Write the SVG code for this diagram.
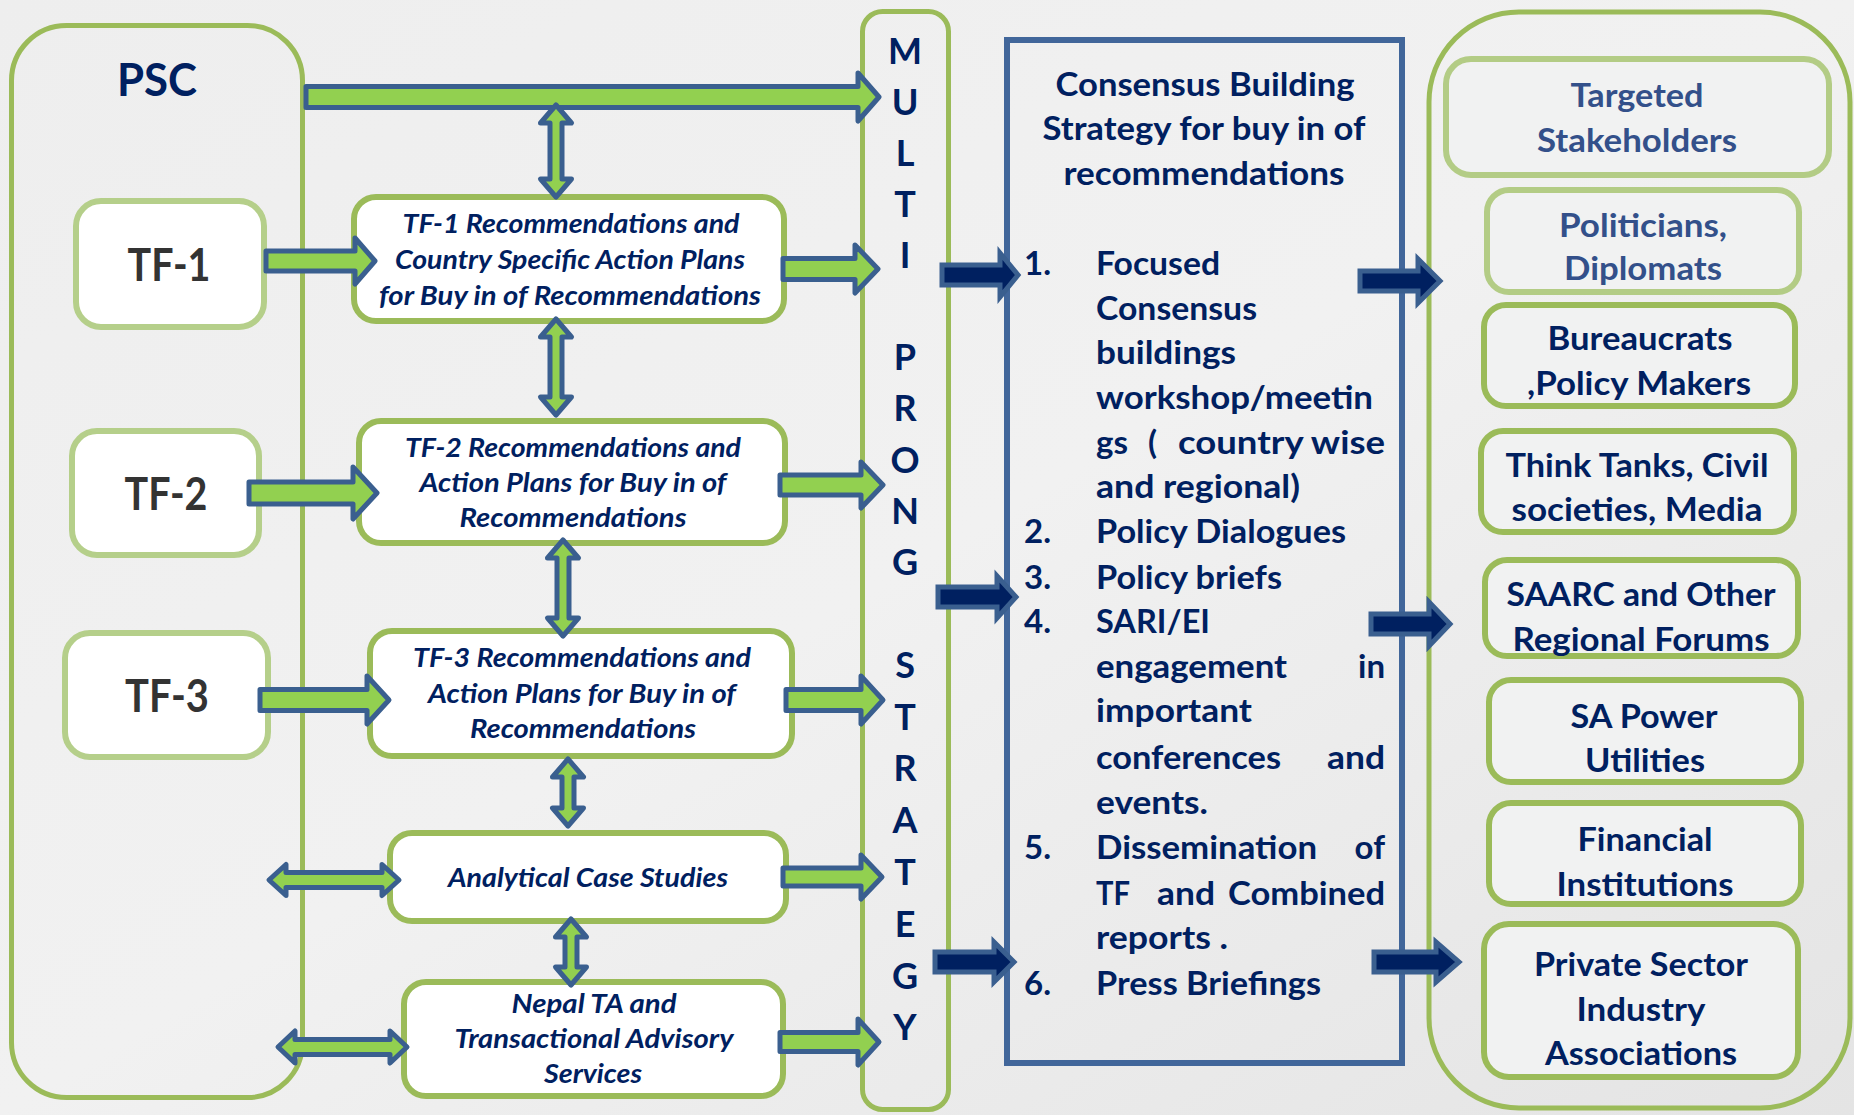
<svg xmlns="http://www.w3.org/2000/svg" width="1854" height="1115" viewBox="0 0 1854 1115">
<defs>
<linearGradient id="bg" x1="0" y1="0" x2="1" y2="1">
<stop offset="0" stop-color="#EEEEEE"/>
<stop offset="0.5" stop-color="#F1F1F1"/>
<stop offset="1" stop-color="#E4E4E4"/>
</linearGradient>
<style>
.cont{fill:none;stroke:#9BBB59;stroke-width:5}
.box{fill:#FFFFFF;stroke:#9BBB59;stroke-width:6}
.boxl{fill:#FFFFFF;stroke:#B5CF8A;stroke-width:6}
.sbox{fill:#F1F2F2;stroke:#9BBB59;stroke-width:6}
.sboxl{fill:#F1F2F2;stroke:#B3CC85;stroke-width:6}
.ga{fill:#92D050;stroke:#3A5F8F;stroke-width:5;stroke-linejoin:round}
.na{fill:#002060;stroke:#3A5F8F;stroke-width:5;stroke-linejoin:miter}
.t{font-family:Lato,'Noto Sans',sans-serif;font-weight:700;fill:#002060}
.c{text-anchor:middle}
.it{font-style:italic;font-size:26px}
.big{font-size:46px}
.gray{fill:#333333}
.lt{fill:#33508A}
.m{font-size:36px;text-anchor:middle}
.l{font-size:33px}
</style>
</defs>
<rect x="0" y="0" width="1854" height="1115" fill="url(#bg)"/>

<g id="psc-container"><rect class="cont" x="11.5" y="25.5" width="291" height="1072" rx="55"/></g>
<g id="multi-prong"><rect class="cont" x="862.5" y="11.5" width="86" height="1098" rx="20" fill="#EFF0EF"/></g>
<g id="consensus"><rect x="1007" y="40" width="395" height="1023" fill="none" stroke="#41669A" stroke-width="6"/></g>
<g id="stakeholders-container"><rect class="cont" x="1429" y="12" width="421" height="1096" rx="90"/></g>

<g id="tf1"><rect class="boxl" x="76" y="201" width="188" height="126" rx="25"/></g>
<g id="tf2"><rect class="boxl" x="72" y="431" width="187" height="124" rx="25"/></g>
<g id="tf3"><rect class="boxl" x="65" y="633" width="203" height="124" rx="25"/></g>

<g id="tf1-rec"><rect class="box" x="354" y="197" width="430" height="124" rx="22"/></g>
<g id="tf2-rec"><rect class="box" x="359" y="421" width="426" height="122" rx="22"/></g>
<g id="tf3-rec"><rect class="box" x="370" y="631" width="422" height="125" rx="22"/></g>
<g id="analytical"><rect class="box" x="390" y="833" width="396" height="88" rx="22"/></g>
<g id="nepal"><rect class="box" x="404" y="982" width="379" height="114" rx="22"/></g>

<g id="targeted"><rect class="sboxl" x="1446" y="59" width="383" height="116" rx="25"/></g>
<g id="politicians"><rect class="sboxl" x="1487" y="190" width="312" height="102" rx="22"/></g>
<g id="bureaucrats"><rect class="sbox" x="1484" y="305" width="311" height="101" rx="22"/></g>
<g id="thinktanks"><rect class="sbox" x="1481" y="431" width="313" height="101" rx="22"/></g>
<g id="saarc"><rect class="sbox" x="1485" y="560" width="313" height="96" rx="22"/></g>
<g id="sapower"><rect class="sbox" x="1489" y="680" width="312" height="102" rx="22"/></g>
<g id="financial"><rect class="sbox" x="1489" y="803" width="312" height="101" rx="22"/></g>
<g id="private"><rect class="sbox" x="1484" y="924" width="314" height="153" rx="25"/></g>

<g id="connectors">
<path class="ga" d="M306,86.5 L858,86.5 L858,73 L879,97 L858,121 L858,107.5 L306,107.5 Z"/>
<path class="ga" d="M266,251 L355,251 L355,238 L375,261 L355,284 L355,271 L266,271 Z"/>
<path class="ga" d="M249,482 L353,482 L353,467 L377,493 L353,519 L353,504 L249,504 Z"/>
<path class="ga" d="M260,689.5 L367,689.5 L367,676 L389,700 L367,724 L367,710.5 L260,710.5 Z"/>
<path class="ga" d="M783,258.5 L855,258.5 L855,245 L878,269 L855,293 L855,279.5 L783,279.5 Z"/>
<path class="ga" d="M780,475 L861,475 L861,462 L883,485 L861,508 L861,495 L780,495 Z"/>
<path class="ga" d="M786,689.5 L861,689.5 L861,676 L883,700 L861,724 L861,710.5 L786,710.5 Z"/>
<path class="ga" d="M783,868 L861,868 L861,855 L882,877 L861,899 L861,886 L783,886 Z"/>
<path class="ga" d="M780,1032.5 L858,1032.5 L858,1019 L879,1042 L858,1065 L858,1051.5 L780,1051.5 Z"/>
<path class="ga" d="M269,880 L286,864.5 L286,872.5 L382,872.5 L382,864.5 L399,880 L382,895.5 L382,887.5 L286,887.5 L286,895.5 Z"/>
<path class="ga" d="M278,1047 L295,1031 L295,1039.5 L390,1039.5 L390,1031 L407,1047 L390,1063 L390,1054.5 L295,1054.5 L295,1063 Z"/>
<path class="ga" d="M556,105 L571.5,123 L562,123 L562,179 L571.5,179 L556,197 L540.5,179 L550,179 L550,123 L540.5,123 Z"/>
<path class="ga" d="M556,319 L571.5,337 L562,337 L562,397 L571.5,397 L556,415 L540.5,397 L550,397 L550,337 L540.5,337 Z"/>
<path class="ga" d="M563,540 L578.5,558 L569,558 L569,618 L578.5,618 L563,636 L547.5,618 L557,618 L557,558 L547.5,558 Z"/>
<path class="ga" d="M568,759 L583.5,777 L574,777 L574,808 L583.5,808 L568,826 L552.5,808 L562,808 L562,777 L552.5,777 Z"/>
<path class="ga" d="M571,919 L586.5,937 L577,937 L577,967 L586.5,967 L571,985 L555.5,967 L565,967 L565,937 L555.5,937 Z"/>
<path class="na" d="M942,265 L1000,265 L1000,253 L1018,275 L1000,297 L1000,285 L942,285 Z"/>
<path class="na" d="M938,587 L997,587 L997,576 L1016,597 L997,618 L997,607 L938,607 Z"/>
<path class="na" d="M935,952 L994,952 L994,942 L1014,962 L994,982 L994,972 L935,972 Z"/>
<path class="na" d="M1360,271 L1418,271 L1418,259 L1440,281 L1418,303 L1418,291 L1360,291 Z"/>
<path class="na" d="M1371,614 L1429,614 L1429,602 L1450,624 L1429,646 L1429,634 L1371,634 Z"/>
<path class="na" d="M1374,952 L1436,952 L1436,942 L1459,962 L1436,982 L1436,972 L1374,972 Z"/>
</g>

<g id="labels">
<text class="t big c" x="157" y="96" textLength="80" lengthAdjust="spacingAndGlyphs">PSC</text>
<text class="t big c gray" x="169" y="281" textLength="83" lengthAdjust="spacingAndGlyphs">TF-1</text>
<text class="t big c gray" x="166" y="510" textLength="83" lengthAdjust="spacingAndGlyphs">TF-2</text>
<text class="t big c gray" x="167" y="712" textLength="84" lengthAdjust="spacingAndGlyphs">TF-3</text>

<text class="t it c" x="571" y="233" textLength="337" lengthAdjust="spacingAndGlyphs">TF-1 Recommendations and</text>
<text class="t it c" x="570" y="269" textLength="350" lengthAdjust="spacingAndGlyphs">Country Specific Action Plans</text>
<text class="t it c" x="570" y="305" textLength="382" lengthAdjust="spacingAndGlyphs">for Buy in of Recommendations</text>

<text class="t it c" x="573" y="457" textLength="336" lengthAdjust="spacingAndGlyphs">TF-2 Recommendations and</text>
<text class="t it c" x="573" y="492" textLength="307" lengthAdjust="spacingAndGlyphs">Action Plans for Buy in of</text>
<text class="t it c" x="573" y="527" textLength="227" lengthAdjust="spacingAndGlyphs">Recommendations</text>

<text class="t it c" x="582" y="667" textLength="338" lengthAdjust="spacingAndGlyphs">TF-3 Recommendations and</text>
<text class="t it c" x="582" y="703" textLength="308" lengthAdjust="spacingAndGlyphs">Action Plans for Buy in of</text>
<text class="t it c" x="583" y="738" textLength="226" lengthAdjust="spacingAndGlyphs">Recommendations</text>

<text class="t it c" x="588" y="887" textLength="280" lengthAdjust="spacingAndGlyphs">Analytical Case Studies</text>

<text class="t it c" x="594" y="1013" textLength="165" lengthAdjust="spacingAndGlyphs">Nepal TA and</text>
<text class="t it c" x="594" y="1048" textLength="279" lengthAdjust="spacingAndGlyphs">Transactional Advisory</text>
<text class="t it c" x="593" y="1083" textLength="98" lengthAdjust="spacingAndGlyphs">Services</text>

<text class="t m" x="905" y="64">M</text>
<text class="t m" x="905" y="115">U</text>
<text class="t m" x="905" y="166">L</text>
<text class="t m" x="905" y="217">T</text>
<text class="t m" x="905" y="268">I</text>
<text class="t m" x="905" y="370">P</text>
<text class="t m" x="905" y="421">R</text>
<text class="t m" x="905" y="473">O</text>
<text class="t m" x="905" y="524">N</text>
<text class="t m" x="905" y="575">G</text>
<text class="t m" x="905" y="678">S</text>
<text class="t m" x="905" y="730">T</text>
<text class="t m" x="905" y="781">R</text>
<text class="t m" x="905" y="833">A</text>
<text class="t m" x="905" y="885">T</text>
<text class="t m" x="905" y="937">E</text>
<text class="t m" x="905" y="989">G</text>
<text class="t m" x="905" y="1040">Y</text>

<text class="t l c" x="1205" y="96" textLength="299" lengthAdjust="spacingAndGlyphs">Consensus Building</text>
<text class="t l c" x="1204" y="140" textLength="323" lengthAdjust="spacingAndGlyphs">Strategy for buy in of</text>
<text class="t l c" x="1204" y="185" textLength="281" lengthAdjust="spacingAndGlyphs">recommendations</text>

<text class="t l" x="1024" y="275">1.</text>
<text class="t l" x="1096" y="275" textLength="124" lengthAdjust="spacingAndGlyphs">Focused</text>
<text class="t l" x="1096" y="320" textLength="161" lengthAdjust="spacingAndGlyphs">Consensus</text>
<text class="t l" x="1096" y="364" textLength="140" lengthAdjust="spacingAndGlyphs">buildings</text>
<text class="t l" x="1096" y="409" textLength="277" lengthAdjust="spacingAndGlyphs">workshop/meetin</text>
<text class="t l" x="1096" y="454">gs</text>
<text class="t l" x="1148" y="454">(</text>
<text class="t l" x="1178" y="454" textLength="207" lengthAdjust="spacingAndGlyphs">country  wise</text>
<text class="t l" x="1096" y="498" textLength="204" lengthAdjust="spacingAndGlyphs">and regional)</text>
<text class="t l" x="1024" y="543">2.</text>
<text class="t l" x="1096" y="543" textLength="250" lengthAdjust="spacingAndGlyphs">Policy Dialogues</text>
<text class="t l" x="1024" y="589">3.</text>
<text class="t l" x="1096" y="589" textLength="186" lengthAdjust="spacingAndGlyphs">Policy briefs</text>
<text class="t l" x="1024" y="633">4.</text>
<text class="t l" x="1096" y="633" textLength="114" lengthAdjust="spacingAndGlyphs">SARI/EI</text>
<text class="t l" x="1096" y="678" textLength="191" lengthAdjust="spacingAndGlyphs">engagement</text>
<text class="t l" x="1385" y="678" text-anchor="end">in</text>
<text class="t l" x="1096" y="722" textLength="156" lengthAdjust="spacingAndGlyphs">important</text>
<text class="t l" x="1096" y="769" textLength="185" lengthAdjust="spacingAndGlyphs">conferences</text>
<text class="t l" x="1327" y="769" textLength="58" lengthAdjust="spacingAndGlyphs">and</text>
<text class="t l" x="1096" y="814" textLength="112" lengthAdjust="spacingAndGlyphs">events.</text>
<text class="t l" x="1024" y="859">5.</text>
<text class="t l" x="1096" y="859" textLength="221" lengthAdjust="spacingAndGlyphs">Dissemination</text>
<text class="t l" x="1385" y="859" text-anchor="end">of</text>
<text class="t l" x="1096" y="905" textLength="34" lengthAdjust="spacingAndGlyphs">TF</text>
<text class="t l" x="1157" y="905" textLength="58" lengthAdjust="spacingAndGlyphs">and</text>
<text class="t l" x="1228" y="905" textLength="157" lengthAdjust="spacingAndGlyphs">Combined</text>
<text class="t l" x="1096" y="949" textLength="132" lengthAdjust="spacingAndGlyphs">reports .</text>
<text class="t l" x="1024" y="995">6.</text>
<text class="t l" x="1096" y="995" textLength="225" lengthAdjust="spacingAndGlyphs">Press Briefings</text>

<text class="t l c lt" x="1637" y="107" textLength="133" lengthAdjust="spacingAndGlyphs">Targeted</text>
<text class="t l c lt" x="1637" y="152" textLength="200" lengthAdjust="spacingAndGlyphs">Stakeholders</text>
<text class="t l c lt" x="1643" y="237" textLength="168" lengthAdjust="spacingAndGlyphs">Politicians,</text>
<text class="t l c lt" x="1643" y="280" textLength="158" lengthAdjust="spacingAndGlyphs">Diplomats</text>
<text class="t l c" x="1640" y="350" textLength="185" lengthAdjust="spacingAndGlyphs">Bureaucrats</text>
<text class="t l c" x="1639" y="395" textLength="224" lengthAdjust="spacingAndGlyphs">,Policy Makers</text>
<text class="t l c" x="1637" y="477" textLength="263" lengthAdjust="spacingAndGlyphs">Think Tanks, Civil</text>
<text class="t l c" x="1637" y="521" textLength="251" lengthAdjust="spacingAndGlyphs">societies, Media</text>
<text class="t l c" x="1641" y="606" textLength="269" lengthAdjust="spacingAndGlyphs">SAARC and Other</text>
<text class="t l c" x="1641" y="651" textLength="257" lengthAdjust="spacingAndGlyphs">Regional Forums</text>
<text class="t l c" x="1644" y="728" textLength="147" lengthAdjust="spacingAndGlyphs">SA Power</text>
<text class="t l c" x="1645" y="772" textLength="120" lengthAdjust="spacingAndGlyphs">Utilities</text>
<text class="t l c" x="1645" y="851" textLength="135" lengthAdjust="spacingAndGlyphs">Financial</text>
<text class="t l c" x="1645" y="896" textLength="177" lengthAdjust="spacingAndGlyphs">Institutions</text>
<text class="t l c" x="1641" y="976" textLength="214" lengthAdjust="spacingAndGlyphs">Private Sector</text>
<text class="t l c" x="1641" y="1021" textLength="129" lengthAdjust="spacingAndGlyphs">Industry</text>
<text class="t l c" x="1641" y="1065" textLength="192" lengthAdjust="spacingAndGlyphs">Associations</text>
</g>
</svg>
